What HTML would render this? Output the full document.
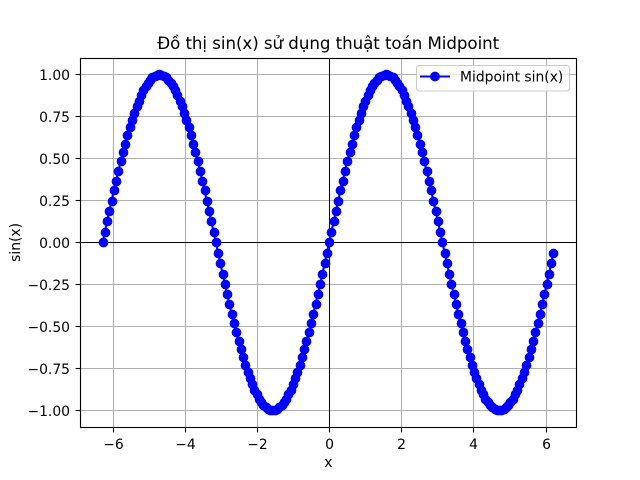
<!DOCTYPE html>
<html>
<head>
<meta charset="utf-8">
<title>Đồ thị sin(x)</title>
<style>
html,body{margin:0;padding:0;background:#fff;}
svg{display:block;}
text{font-family:"DejaVu Sans","Liberation Sans",sans-serif;fill:#000;}
</style>
</head>
<body>
<svg id="chart" width="640" height="480" viewBox="0 0 640 480" xmlns="http://www.w3.org/2000/svg">
<rect x="0" y="0" width="640" height="480" fill="#fff"/>
<g id="grid"></g>
<g id="zero-lines"></g>
<g id="series"></g>
<g id="axes"></g>
<text x="157.2" y="49" font-size="16.67" textLength="342" lengthAdjust="spacing">Đồ thị sin(x) sử dụng thuật toán Midpoint</text>
<text x="328.3" y="467" font-size="13.89" text-anchor="middle">x</text>
<text x="20" y="242.4" font-size="13.89" text-anchor="middle" transform="rotate(-90 20 242.4)">sin(x)</text>
<g>
<rect x="416.5" y="65.5" width="153" height="25.5" rx="3" ry="3" fill="#fff" fill-opacity="0.8" stroke="#ccc" stroke-width="1.11"/>
<line x1="420" y1="76.5" x2="450" y2="76.5" stroke="#0000ff" stroke-width="2.08"/>
<circle cx="435" cy="76.5" r="4.17" fill="#0000ff" stroke="#0000ff" stroke-width="1.39"/>
<text x="460" y="81.3" font-size="13.89">Midpoint sin(x)</text>
</g>
</svg>
<script>
const xValues = [
-6.283,-6.220,-6.158,-6.095,-6.032,-5.969,-5.906,-5.843,-5.781,-5.718,
-5.655,-5.592,-5.529,-5.466,-5.404,-5.341,-5.278,-5.215,-5.152,-5.089,
-5.027,-4.964,-4.901,-4.838,-4.775,-4.712,-4.650,-4.587,-4.524,-4.461,
-4.398,-4.335,-4.273,-4.210,-4.147,-4.084,-4.021,-3.958,-3.896,-3.833,
-3.770,-3.707,-3.644,-3.581,-3.519,-3.456,-3.393,-3.330,-3.267,-3.204,
-3.142,-3.079,-3.016,-2.953,-2.890,-2.827,-2.765,-2.702,-2.639,-2.576,
-2.513,-2.450,-2.388,-2.325,-2.262,-2.199,-2.136,-2.073,-2.011,-1.948,
-1.885,-1.822,-1.759,-1.696,-1.634,-1.571,-1.508,-1.445,-1.382,-1.319,
-1.257,-1.194,-1.131,-1.068,-1.005,-0.942,-0.880,-0.817,-0.754,-0.691,
-0.628,-0.565,-0.503,-0.440,-0.377,-0.314,-0.251,-0.188,-0.126,-0.063,
0.000,0.063,0.126,0.188,0.251,0.314,0.377,0.440,0.503,0.565,
0.628,0.691,0.754,0.817,0.880,0.942,1.005,1.068,1.131,1.194,
1.257,1.319,1.382,1.445,1.508,1.571,1.634,1.696,1.759,1.822,
1.885,1.948,2.011,2.073,2.136,2.199,2.262,2.325,2.388,2.450,
2.513,2.576,2.639,2.702,2.765,2.827,2.890,2.953,3.016,3.079,
3.142,3.204,3.267,3.330,3.393,3.456,3.519,3.581,3.644,3.707,
3.770,3.833,3.896,3.958,4.021,4.084,4.147,4.210,4.273,4.335,
4.398,4.461,4.524,4.587,4.650,4.712,4.775,4.838,4.901,4.964,
5.027,5.089,5.152,5.215,5.278,5.341,5.404,5.466,5.529,5.592,
5.655,5.718,5.781,5.843,5.906,5.969,6.032,6.095,6.158,6.220
];
const sinValues = [
0,0.0628,0.1253,0.1874,0.2487,0.3090,0.3681,0.4258,0.4818,0.5358,
0.5878,0.6374,0.6845,0.7290,0.7705,0.8090,0.8443,0.8763,0.9048,0.9298,
0.9511,0.9686,0.9823,0.9921,0.9980,1.0000,0.9980,0.9921,0.9823,0.9686,
0.9511,0.9298,0.9048,0.8763,0.8443,0.8090,0.7705,0.7290,0.6845,0.6374,
0.5878,0.5358,0.4818,0.4258,0.3681,0.3090,0.2487,0.1874,0.1253,0.0628,
0,-0.0628,-0.1253,-0.1874,-0.2487,-0.3090,-0.3681,-0.4258,-0.4818,-0.5358,
-0.5878,-0.6374,-0.6845,-0.7290,-0.7705,-0.8090,-0.8443,-0.8763,-0.9048,-0.9298,
-0.9511,-0.9686,-0.9823,-0.9921,-0.9980,-1.0000,-0.9980,-0.9921,-0.9823,-0.9686,
-0.9511,-0.9298,-0.9048,-0.8763,-0.8443,-0.8090,-0.7705,-0.7290,-0.6845,-0.6374,
-0.5878,-0.5358,-0.4818,-0.4258,-0.3681,-0.3090,-0.2487,-0.1874,-0.1253,-0.0628,
0,0.0628,0.1253,0.1874,0.2487,0.3090,0.3681,0.4258,0.4818,0.5358,
0.5878,0.6374,0.6845,0.7290,0.7705,0.8090,0.8443,0.8763,0.9048,0.9298,
0.9511,0.9686,0.9823,0.9921,0.9980,1.0000,0.9980,0.9921,0.9823,0.9686,
0.9511,0.9298,0.9048,0.8763,0.8443,0.8090,0.7705,0.7290,0.6845,0.6374,
0.5878,0.5358,0.4818,0.4258,0.3681,0.3090,0.2487,0.1874,0.1253,0.0628,
0,-0.0628,-0.1253,-0.1874,-0.2487,-0.3090,-0.3681,-0.4258,-0.4818,-0.5358,
-0.5878,-0.6374,-0.6845,-0.7290,-0.7705,-0.8090,-0.8443,-0.8763,-0.9048,-0.9298,
-0.9511,-0.9686,-0.9823,-0.9921,-0.9980,-1.0000,-0.9980,-0.9921,-0.9823,-0.9686,
-0.9511,-0.9298,-0.9048,-0.8763,-0.8443,-0.8090,-0.7705,-0.7290,-0.6845,-0.6374,
-0.5878,-0.5358,-0.4818,-0.4258,-0.3681,-0.3090,-0.2487,-0.1874,-0.1253,-0.0628
];
const xTickValues = [-6,-4,-2,0,2,4,6];
const xTickLabels = ["−6","−4","−2","0","2","4","6"];
const yTickValues = [-1,-0.75,-0.5,-0.25,0,0.25,0.5,0.75,1];
const yTickLabels = ["−1.00","−0.75","−0.50","−0.25","0.00","0.25","0.50","0.75","1.00"];

const plotLeft = 80, plotRight = 576, plotTop = 57.6, plotBottom = 427.2;
const xDomain = [-6.9084, 6.8456];
const yDomain = [-1.1, 1.1];
const NS = "http://www.w3.org/2000/svg";

function xScale(v){ return plotLeft + (v - xDomain[0]) / (xDomain[1] - xDomain[0]) * (plotRight - plotLeft); }
function yScale(v){ return plotBottom - (v - yDomain[0]) / (yDomain[1] - yDomain[0]) * (plotBottom - plotTop); }
function snap(p){ return Math.round(p) + 0.5; }
function make(tag, attrs, parent){
  const el = document.createElementNS(NS, tag);
  for (const k in attrs) el.setAttribute(k, attrs[k]);
  parent.appendChild(el);
  return el;
}

const gridG = document.getElementById("grid");
const zeroG = document.getElementById("zero-lines");
const seriesG = document.getElementById("series");
const axesG = document.getElementById("axes");

const frameTop = snap(plotTop), frameBottom = snap(plotBottom), frameLeft = snap(plotLeft), frameRight = snap(plotRight);

xTickValues.forEach(function(v){
  const x = snap(xScale(v));
  const line = make("line", {x1:x, x2:x, y1:frameTop, y2:frameBottom, stroke:"#b0b0b0", "stroke-width":1.11}, gridG);
  
  
});
yTickValues.forEach(function(v){
  const y = snap(yScale(v));
  const line = make("line", {x1:frameLeft, x2:frameRight, y1:y, y2:y, stroke:"#b0b0b0", "stroke-width":1.11}, gridG);
  
  
});

const zeroH = make("line", {x1:frameLeft, x2:frameRight, y1:snap(yScale(0)), y2:snap(yScale(0)), stroke:"#000", "stroke-width":0.95}, zeroG);


const zeroV = make("line", {x1:snap(xScale(0)), x2:snap(xScale(0)), y1:frameTop, y2:frameBottom, stroke:"#000", "stroke-width":0.95}, zeroG);



const pathPoints = xValues.map(function(v, i){ return xScale(v).toFixed(2) + "," + yScale(sinValues[i]).toFixed(2); }).join(" ");
const polyline = make("polyline", {points:pathPoints, fill:"none", stroke:"#0000ff", "stroke-width":2.08, "stroke-linejoin":"round"}, seriesG);



xValues.forEach(function(v, i){
  const c = make("circle", {cx:snap(xScale(v)), cy:snap(yScale(sinValues[i])), r:4.17, fill:"#0000ff", stroke:"#0000ff", "stroke-width":1.39}, seriesG);
  
  
});

const spineFrame = make("rect", {x:frameLeft, y:frameTop, width:frameRight - frameLeft, height:frameBottom - frameTop, fill:"none", stroke:"#000", "stroke-width":1.11}, axesG);



xTickValues.forEach(function(v, i){
  const x = snap(xScale(v));
  const tick = make("line", {x1:x, x2:x, y1:frameBottom, y2:frameBottom + 4.9, stroke:"#000", "stroke-width":1.11}, axesG);
  
  
  const label = make("text", {x:x, y:449, "font-size":13.89, "text-anchor":"middle"}, axesG);
  
  
  label.textContent = xTickLabels[i];
});
yTickValues.forEach(function(v, i){
  const y = snap(yScale(v));
  const tick = make("line", {x1:frameLeft - 4.9, x2:frameLeft, y1:y, y2:y, stroke:"#000", "stroke-width":1.11}, axesG);
  
  
  const label = make("text", {x:70, y:y + 5.5, "font-size":13.89, "text-anchor":"end"}, axesG);
  
  
  label.textContent = yTickLabels[i];
});
</script>
</body>
</html>
